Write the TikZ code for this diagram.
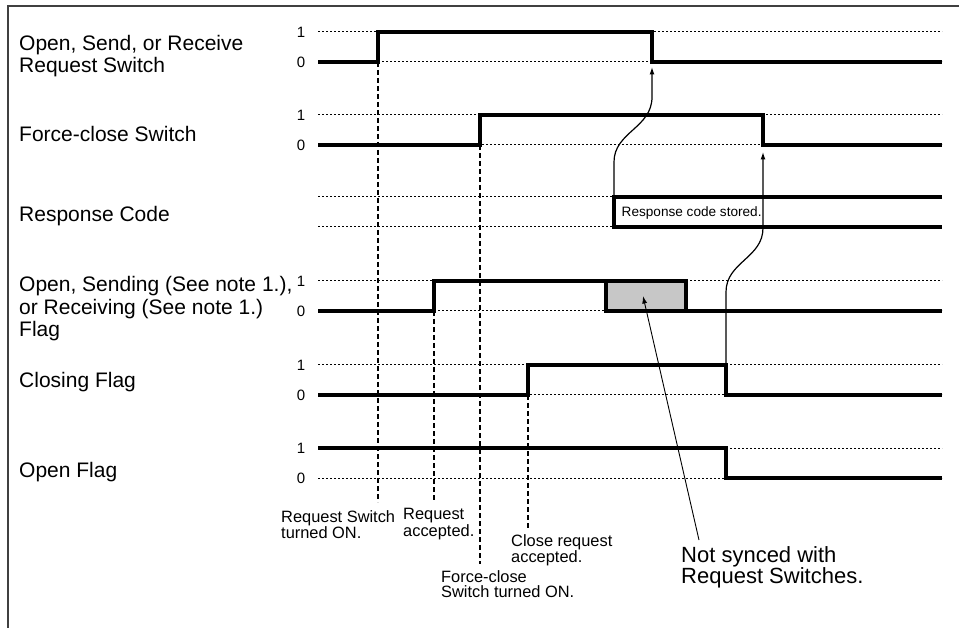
\documentclass[tikz,border=0pt]{standalone}
\usepackage{fontspec}
\setmainfont{Liberation Sans}
\usetikzlibrary{arrows.meta}

\begin{document}
\begin{tikzpicture}[
        x=1pt, y=-1pt,
        signal/.style={line width=3.2pt, line join=miter},
        level/.style={line width=1pt, dash pattern=on 2.4pt off 1.6pt},
        marker/.style={line width=1.3pt, dash pattern=on 5pt off 3pt},
        note/.style={-{Latex[length=7.5pt,width=5pt]}, line width=1.2pt},
        rowlabel/.style={anchor=north west, inner sep=0pt, align=left, font=\fontsize{21}{22.5}\selectfont},
        digit/.style={inner sep=0pt, font=\fontsize{15}{15}\selectfont},
        eventlabel/.style={anchor=north west, inner sep=0pt, align=left, font=\fontsize{16.4}{15.2}\selectfont},
        notelabel/.style={anchor=north west, inner sep=0pt, align=left, font=\fontsize{22}{20}\selectfont},
        busybox/.style={draw, line width=3.2pt, fill=black!22, minimum width=80pt, minimum height=30pt, inner sep=0pt}
    ]
        \useasboundingbox (0,0) rectangle (959,628);
        \draw[line width=1.4pt, black!75] (959,6) -- (8,6) -- (8,628);

        \node[rowlabel] (reqsw) at (19,35) {Open, Send, or Receive\\Request Switch};
        \node[rowlabel] (forcesw) at (19,126.5) {Force-close Switch};
        \node[rowlabel] (respcode) at (19,206.5) {Response Code};
        \node[rowlabel] (busyflag) at (19,276.5) {Open, Sending (See note 1.),\\or Receiving (See note 1.)\\Flag};
        \node[rowlabel] (closeflag) at (19,372) {Closing Flag};
        \node[rowlabel] (openflag) at (19,462) {Open Flag};

        \foreach \hi/\lo in {32/62, 115/145, 281/311, 365/395, 448/478} {
            \node[digit] (one\hi) at (301,\hi) {1};
            \node[digit] (zero\lo) at (301,\lo) {0};
            \draw[level] (318,\hi) -- (942,\hi);
            \draw[level] (318,\lo) -- (942,\lo);
        }
        \draw[level] (318,197) -- (614,197);
        \draw[level] (318,227) -- (614,227);

        \coordinate (reqon) at (378,62);
        \coordinate (reqoff) at (652,62);
        \coordinate (forceon) at (480,145);
        \coordinate (forceoff) at (763,145);
        \coordinate (respon) at (614,197);
        \coordinate (busyon) at (434,311);
        \coordinate (closeon) at (528,395);
        \coordinate (closeoff) at (726,365);

        \node[busybox] (busy) at (646,296) {};

        \draw[signal] (318,62) -- (reqon) -- (378,32) -- (652,32) -- (reqoff) -- (942,62);
        \draw[signal] (318,145) -- (forceon) -- (480,115) -- (763,115) -- (forceoff) -- (942,145);
        \draw[signal] (942,197) -- (respon) -- (614,227) -- (942,227);
        \draw[signal] (318,311) -- (busyon) -- (434,281) -- (686,281) -- (686,311) -- (942,311);
        \draw[signal] (318,395) -- (closeon) -- (528,365) -- (closeoff) -- (726,395) -- (942,395);
        \draw[signal] (318,448) -- (726,448) -- (726,478) -- (942,478);

        \node[anchor=north west, inner sep=0pt, font=\fontsize{13.6}{14}\selectfont] (stored) at (621.5,206) {Response code stored.};

        \node[eventlabel] (lblreqon) at (281,510) {Request Switch\\turned ON.};
        \node[eventlabel] (lblreqacc) at (403,508.5) {Request\\accepted.};
        \node[eventlabel] (lblforce) at (441,570.5) {Force-close\\Switch turned ON.};
        \node[eventlabel] (lblcloseacc) at (511,534.5) {Close request\\accepted.};
        \node[notelabel] (nosync) at (681,546) {Not synced with\\Request Switches.};

        \draw[marker] (reqon) -- ([yshift=8pt]lblreqon.north -| reqon);
        \draw[marker] (busyon) -- ([yshift=6pt]lblreqacc.north -| busyon);
        \draw[marker] (forceon) -- ([yshift=7pt]lblforce.north -| forceon);
        \draw[marker] (closeon) -- ([yshift=6pt]lblcloseacc.north -| closeon);

        \draw[note] (respon) -- (614,162) .. controls (614,132) and (652,128) .. (652,97) -- ([yshift=-5pt]reqoff);
        \draw[note] (closeoff) -- (726,292) .. controls (726,262) and (763,258) .. (763,228) -- ([yshift=-7pt]forceoff);
        \draw[note, line width=0.9pt] ([xshift=18pt,yshift=6pt]nosync.north west) -- ([xshift=-3pt]busy.center);
    \end{tikzpicture}
\end{document}
